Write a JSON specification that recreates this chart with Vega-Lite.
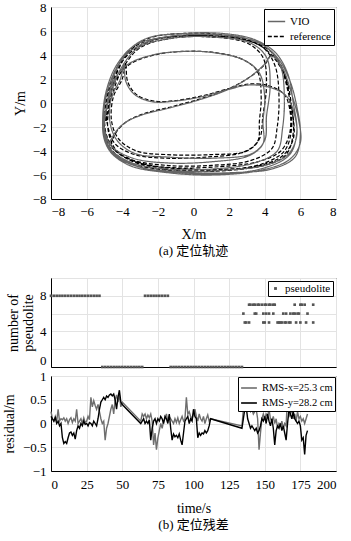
{
  "$schema": "https://vega.github.io/schema/vega-lite/v6.json",
  "padding": {"left": 1, "top": 0, "right": 5, "bottom": 5},
  "background": "white",
  "config": {
    "font": "Liberation Serif",
    "view": {"stroke": "black", "strokeWidth": 1},
    "axis": {"labelFont": "Liberation Serif", "labelFontSize": 13, "labelColor": "black", "titleFont": "Liberation Serif", "titleFontSize": 14, "titleFontWeight": "normal", "titleColor": "black", "domainColor": "black", "gridColor": "#e3e3e3", "ticks": false, "labelPadding": 5},
    "legend": {"labelFont": "Liberation Serif", "labelFontSize": 11, "labelColor": "black"},
    "title": {"font": "Liberation Serif, Noto Sans CJK SC", "fontSize": 13, "fontWeight": "normal", "color": "black"}
  },
  "bounds": "flush",
  "spacing": 79,
  "resolve": {"scale": {"color": "independent", "strokeDash": "independent", "x": "independent", "y": "independent"}, "legend": {"color": "independent", "strokeDash": "independent"}},
  "datasets": {
    "traj": [
      {"s":"reference","i":0,"x":-4.9,"y":-1.5},{"s":"reference","i":1,"x":-4.7,"y":0.5},{"s":"reference","i":2,"x":-4.3,"y":2.5},{"s":"reference","i":3,"x":-3.6,"y":4.3},{"s":"reference","i":4,"x":-2.5,"y":5.4},{"s":"reference","i":5,"x":-0.5,"y":5.8},{"s":"reference","i":6,"x":1.5,"y":5.7},{"s":"reference","i":7,"x":3.2,"y":5.2},{"s":"reference","i":8,"x":4.4,"y":4.2},{"s":"reference","i":9,"x":5.1,"y":2.5},{"s":"reference","i":10,"x":5.4,"y":0.2},{"s":"reference","i":11,"x":5.5,"y":-2.2},{"s":"reference","i":12,"x":5.1,"y":-4.0},{"s":"reference","i":13,"x":3.8,"y":-5.1},{"s":"reference","i":14,"x":1.5,"y":-5.6},{"s":"reference","i":15,"x":-0.8,"y":-5.6},{"s":"reference","i":16,"x":-2.8,"y":-5.2},{"s":"reference","i":17,"x":-4.2,"y":-4.2},{"s":"reference","i":18,"x":-4.9,"y":-2.8},
      {"s":"reference","i":19,"x":-5.0,"y":-1.2},{"s":"reference","i":20,"x":-4.8,"y":1.0},{"s":"reference","i":21,"x":-4.2,"y":3.2},{"s":"reference","i":22,"x":-3.2,"y":4.8},{"s":"reference","i":23,"x":-1.5,"y":5.5},{"s":"reference","i":24,"x":0.8,"y":5.6},{"s":"reference","i":25,"x":2.8,"y":5.3},{"s":"reference","i":26,"x":4.0,"y":4.5},{"s":"reference","i":27,"x":4.6,"y":3.0},{"s":"reference","i":28,"x":4.8,"y":0.5},{"s":"reference","i":29,"x":4.7,"y":-2.0},{"s":"reference","i":30,"x":4.4,"y":-3.8},{"s":"reference","i":31,"x":3.2,"y":-4.8},{"s":"reference","i":32,"x":1.0,"y":-5.2},{"s":"reference","i":33,"x":-1.5,"y":-5.2},{"s":"reference","i":34,"x":-3.5,"y":-4.7},{"s":"reference","i":35,"x":-4.6,"y":-3.6},
      {"s":"reference","i":36,"x":-4.4,"y":-2.6},{"s":"reference","i":37,"x":-3.8,"y":-1.6},{"s":"reference","i":38,"x":-2.8,"y":-0.9},{"s":"reference","i":39,"x":-1.2,"y":-0.3},{"s":"reference","i":40,"x":0.5,"y":0.4},{"s":"reference","i":41,"x":2.0,"y":1.2},{"s":"reference","i":42,"x":3.2,"y":2.2},{"s":"reference","i":43,"x":4.0,"y":3.2},{"s":"reference","i":44,"x":4.4,"y":4.0},
      {"s":"reference","i":45,"x":4.9,"y":3.0},{"s":"reference","i":46,"x":5.3,"y":1.0},{"s":"reference","i":47,"x":5.6,"y":-1.2},{"s":"reference","i":48,"x":5.6,"y":-3.0},{"s":"reference","i":49,"x":5.0,"y":-4.4},{"s":"reference","i":50,"x":3.5,"y":-5.3},{"s":"reference","i":51,"x":1.0,"y":-5.7},{"s":"reference","i":52,"x":-1.5,"y":-5.6},{"s":"reference","i":53,"x":-3.5,"y":-5.0},{"s":"reference","i":54,"x":-4.6,"y":-3.9},{"s":"reference","i":55,"x":-5.0,"y":-2.2},
      {"s":"reference","i":56,"x":-4.6,"y":0.5},{"s":"reference","i":57,"x":-4.0,"y":2.8},{"s":"reference","i":58,"x":-3.0,"y":4.6},{"s":"reference","i":59,"x":-1.2,"y":5.4},{"s":"reference","i":60,"x":1.0,"y":5.5},{"s":"reference","i":61,"x":3.0,"y":5.0},{"s":"reference","i":62,"x":3.9,"y":3.8},{"s":"reference","i":63,"x":4.1,"y":1.5},{"s":"reference","i":64,"x":3.9,"y":-1.0},{"s":"reference","i":65,"x":3.7,"y":-3.0},{"s":"reference","i":66,"x":3.0,"y":-4.0},{"s":"reference","i":67,"x":1.0,"y":-4.3},{"s":"reference","i":68,"x":-1.5,"y":-4.3},{"s":"reference","i":69,"x":-3.2,"y":-4.0},{"s":"reference","i":70,"x":-4.2,"y":-3.0},{"s":"reference","i":71,"x":-4.6,"y":-1.5},{"s":"reference","i":72,"x":-4.5,"y":0.5},{"s":"reference","i":73,"x":-4.0,"y":2.0},
      {"s":"reference","i":74,"x":-3.8,"y":3.3},{"s":"reference","i":75,"x":-3.7,"y":1.8},{"s":"reference","i":76,"x":-3.2,"y":0.7},{"s":"reference","i":77,"x":-2.2,"y":0.15},{"s":"reference","i":78,"x":-1.0,"y":0.2},{"s":"reference","i":79,"x":0.5,"y":0.6},{"s":"reference","i":80,"x":2.0,"y":1.2},{"s":"reference","i":81,"x":3.2,"y":1.6},{"s":"reference","i":82,"x":4.3,"y":1.4},{"s":"reference","i":83,"x":5.1,"y":0.7},{"s":"reference","i":84,"x":5.4,"y":-0.5},{"s":"reference","i":85,"x":5.4,"y":-2.5},{"s":"reference","i":86,"x":4.9,"y":-4.0},{"s":"reference","i":87,"x":3.6,"y":-4.9},{"s":"reference","i":88,"x":1.5,"y":-5.3},{"s":"reference","i":89,"x":-1.0,"y":-5.4},{"s":"reference","i":90,"x":-3.0,"y":-5.0},{"s":"reference","i":91,"x":-4.3,"y":-4.0},{"s":"reference","i":92,"x":-4.8,"y":-2.2},
      {"s":"reference","i":93,"x":-4.7,"y":0.0},{"s":"reference","i":94,"x":-4.4,"y":1.8},{"s":"reference","i":95,"x":-3.6,"y":3.2},{"s":"reference","i":96,"x":-2.2,"y":4.0},{"s":"reference","i":97,"x":-0.5,"y":4.3},{"s":"reference","i":98,"x":1.2,"y":4.2},{"s":"reference","i":99,"x":2.8,"y":3.6},{"s":"reference","i":100,"x":3.6,"y":2.6},{"s":"reference","i":101,"x":3.8,"y":0.5},{"s":"reference","i":102,"x":3.7,"y":-1.5},{"s":"reference","i":103,"x":3.6,"y":-3.2},{"s":"reference","i":104,"x":2.8,"y":-4.1},{"s":"reference","i":105,"x":0.8,"y":-4.5},{"s":"reference","i":106,"x":-1.5,"y":-4.6},{"s":"reference","i":107,"x":-3.3,"y":-4.3},{"s":"reference","i":108,"x":-4.4,"y":-3.4},{"s":"reference","i":109,"x":-4.8,"y":-2.0},
      {"s":"reference","i":110,"x":-4.9,"y":-0.3},{"s":"reference","i":111,"x":-4.5,"y":2.0},{"s":"reference","i":112,"x":-3.7,"y":4.0},{"s":"reference","i":113,"x":-2.3,"y":5.2},{"s":"reference","i":114,"x":-0.3,"y":5.6},{"s":"reference","i":115,"x":2.0,"y":5.5},{"s":"reference","i":116,"x":3.6,"y":4.9},{"s":"reference","i":117,"x":4.5,"y":3.8},{"s":"reference","i":118,"x":5.2,"y":2.0},{"s":"reference","i":119,"x":5.5,"y":-0.2},{"s":"reference","i":120,"x":5.6,"y":-2.5},{"s":"reference","i":121,"x":5.2,"y":-4.3},{"s":"reference","i":122,"x":4.0,"y":-5.2},{"s":"reference","i":123,"x":2.0,"y":-5.5},{"s":"reference","i":124,"x":-0.5,"y":-5.5},{"s":"reference","i":125,"x":-2.8,"y":-5.1},{"s":"reference","i":126,"x":-4.3,"y":-4.1},{"s":"reference","i":127,"x":-4.9,"y":-2.6},{"s":"reference","i":128,"x":-5.0,"y":-1.0},
      {"s":"VIO","i":0,"x":-5.0,"y":-1.6},{"s":"VIO","i":1,"x":-4.8,"y":0.4},{"s":"VIO","i":2,"x":-4.4,"y":2.5},{"s":"VIO","i":3,"x":-3.7,"y":4.3},{"s":"VIO","i":4,"x":-2.6,"y":5.4},{"s":"VIO","i":5,"x":-0.5,"y":5.8},{"s":"VIO","i":6,"x":1.6,"y":5.8},{"s":"VIO","i":7,"x":3.4,"y":5.3},{"s":"VIO","i":8,"x":4.6,"y":4.2},{"s":"VIO","i":9,"x":5.3,"y":2.4},{"s":"VIO","i":10,"x":5.6,"y":0.0},{"s":"VIO","i":11,"x":5.8,"y":-2.4},{"s":"VIO","i":12,"x":5.4,"y":-4.3},{"s":"VIO","i":13,"x":4.0,"y":-5.4},{"s":"VIO","i":14,"x":1.6,"y":-5.9},{"s":"VIO","i":15,"x":-0.8,"y":-5.8},{"s":"VIO","i":16,"x":-2.9,"y":-5.4},{"s":"VIO","i":17,"x":-4.4,"y":-4.4},{"s":"VIO","i":18,"x":-5.0,"y":-2.9},
      {"s":"VIO","i":19,"x":-5.1,"y":-1.3},{"s":"VIO","i":20,"x":-4.9,"y":1.0},{"s":"VIO","i":21,"x":-4.3,"y":3.2},{"s":"VIO","i":22,"x":-3.3,"y":4.8},{"s":"VIO","i":23,"x":-1.6,"y":5.5},{"s":"VIO","i":24,"x":0.8,"y":5.7},{"s":"VIO","i":25,"x":2.9,"y":5.4},{"s":"VIO","i":26,"x":4.2,"y":4.5},{"s":"VIO","i":27,"x":4.9,"y":3.0},{"s":"VIO","i":28,"x":5.1,"y":0.4},{"s":"VIO","i":29,"x":5.0,"y":-2.1},{"s":"VIO","i":30,"x":4.7,"y":-4.0},{"s":"VIO","i":31,"x":3.4,"y":-5.0},{"s":"VIO","i":32,"x":1.1,"y":-5.5},{"s":"VIO","i":33,"x":-1.5,"y":-5.5},{"s":"VIO","i":34,"x":-3.6,"y":-4.9},{"s":"VIO","i":35,"x":-4.7,"y":-3.7},
      {"s":"VIO","i":36,"x":-4.5,"y":-2.7},{"s":"VIO","i":37,"x":-3.9,"y":-1.7},{"s":"VIO","i":38,"x":-2.9,"y":-1.0},{"s":"VIO","i":39,"x":-1.3,"y":-0.4},{"s":"VIO","i":40,"x":0.4,"y":0.3},{"s":"VIO","i":41,"x":1.9,"y":1.1},{"s":"VIO","i":42,"x":3.1,"y":2.1},{"s":"VIO","i":43,"x":3.9,"y":3.1},{"s":"VIO","i":44,"x":4.4,"y":3.9},
      {"s":"VIO","i":45,"x":5.0,"y":2.9},{"s":"VIO","i":46,"x":5.5,"y":0.8},{"s":"VIO","i":47,"x":5.9,"y":-1.4},{"s":"VIO","i":48,"x":6.0,"y":-3.3},{"s":"VIO","i":49,"x":5.4,"y":-4.7},{"s":"VIO","i":50,"x":3.8,"y":-5.6},{"s":"VIO","i":51,"x":1.1,"y":-6.0},{"s":"VIO","i":52,"x":-1.5,"y":-5.8},{"s":"VIO","i":53,"x":-3.6,"y":-5.2},{"s":"VIO","i":54,"x":-4.7,"y":-4.0},{"s":"VIO","i":55,"x":-5.1,"y":-2.2},
      {"s":"VIO","i":56,"x":-4.7,"y":0.5},{"s":"VIO","i":57,"x":-4.1,"y":2.8},{"s":"VIO","i":58,"x":-3.1,"y":4.6},{"s":"VIO","i":59,"x":-1.2,"y":5.4},{"s":"VIO","i":60,"x":1.1,"y":5.5},{"s":"VIO","i":61,"x":3.2,"y":5.0},{"s":"VIO","i":62,"x":4.1,"y":3.8},{"s":"VIO","i":63,"x":4.3,"y":1.4},{"s":"VIO","i":64,"x":4.1,"y":-1.1},{"s":"VIO","i":65,"x":4.0,"y":-3.1},{"s":"VIO","i":66,"x":3.3,"y":-4.2},{"s":"VIO","i":67,"x":1.1,"y":-4.6},{"s":"VIO","i":68,"x":-1.5,"y":-4.5},{"s":"VIO","i":69,"x":-3.3,"y":-4.2},{"s":"VIO","i":70,"x":-4.3,"y":-3.1},{"s":"VIO","i":71,"x":-4.7,"y":-1.5},{"s":"VIO","i":72,"x":-4.6,"y":0.5},{"s":"VIO","i":73,"x":-4.1,"y":2.0},
      {"s":"VIO","i":74,"x":-3.9,"y":3.3},{"s":"VIO","i":75,"x":-3.8,"y":1.8},{"s":"VIO","i":76,"x":-3.3,"y":0.7},{"s":"VIO","i":77,"x":-2.3,"y":0.1},{"s":"VIO","i":78,"x":-1.1,"y":0.15},{"s":"VIO","i":79,"x":0.4,"y":0.5},{"s":"VIO","i":80,"x":1.9,"y":1.1},{"s":"VIO","i":81,"x":3.1,"y":1.5},{"s":"VIO","i":82,"x":4.3,"y":1.3},{"s":"VIO","i":83,"x":5.2,"y":0.6},{"s":"VIO","i":84,"x":5.6,"y":-0.6},{"s":"VIO","i":85,"x":5.8,"y":-2.7},{"s":"VIO","i":86,"x":5.3,"y":-4.3},{"s":"VIO","i":87,"x":4.0,"y":-5.2},{"s":"VIO","i":88,"x":1.7,"y":-5.6},{"s":"VIO","i":89,"x":-0.9,"y":-5.7},{"s":"VIO","i":90,"x":-3.1,"y":-5.3},{"s":"VIO","i":91,"x":-4.5,"y":-4.2},{"s":"VIO","i":92,"x":-5.0,"y":-2.3},
      {"s":"VIO","i":93,"x":-4.8,"y":0.0},{"s":"VIO","i":94,"x":-4.5,"y":1.8},{"s":"VIO","i":95,"x":-3.7,"y":3.2},{"s":"VIO","i":96,"x":-2.3,"y":4.0},{"s":"VIO","i":97,"x":-0.6,"y":4.3},{"s":"VIO","i":98,"x":1.1,"y":4.2},{"s":"VIO","i":99,"x":2.8,"y":3.6},{"s":"VIO","i":100,"x":3.7,"y":2.5},{"s":"VIO","i":101,"x":4.0,"y":0.4},{"s":"VIO","i":102,"x":3.9,"y":-1.6},{"s":"VIO","i":103,"x":3.9,"y":-3.4},{"s":"VIO","i":104,"x":3.1,"y":-4.4},{"s":"VIO","i":105,"x":1.0,"y":-4.9},{"s":"VIO","i":106,"x":-1.4,"y":-5.0},{"s":"VIO","i":107,"x":-3.4,"y":-4.6},{"s":"VIO","i":108,"x":-4.6,"y":-3.6},{"s":"VIO","i":109,"x":-5.0,"y":-2.1},
      {"s":"VIO","i":110,"x":-5.0,"y":-0.3},{"s":"VIO","i":111,"x":-4.6,"y":2.0},{"s":"VIO","i":112,"x":-3.8,"y":4.0},{"s":"VIO","i":113,"x":-2.4,"y":5.2},{"s":"VIO","i":114,"x":-0.3,"y":5.7},{"s":"VIO","i":115,"x":2.0,"y":5.6},{"s":"VIO","i":116,"x":3.7,"y":5.0},{"s":"VIO","i":117,"x":4.7,"y":3.8},{"s":"VIO","i":118,"x":5.4,"y":1.9},{"s":"VIO","i":119,"x":5.8,"y":-0.3},{"s":"VIO","i":120,"x":6.0,"y":-2.6},{"s":"VIO","i":121,"x":5.7,"y":-4.5},{"s":"VIO","i":122,"x":4.4,"y":-5.5},{"s":"VIO","i":123,"x":2.2,"y":-5.8},{"s":"VIO","i":124,"x":-0.4,"y":-5.8},{"s":"VIO","i":125,"x":-2.8,"y":-5.4},{"s":"VIO","i":126,"x":-4.4,"y":-4.3},{"s":"VIO","i":127,"x":-5.0,"y":-2.7},{"s":"VIO","i":128,"x":-5.0,"y":-1.1}
    ],
    "pl": [
      {"t":0,"n":8},{"t":2,"n":8},{"t":4,"n":8},{"t":6,"n":8},{"t":8,"n":8},{"t":10,"n":8},{"t":12,"n":8},{"t":14,"n":8},{"t":16,"n":8},{"t":18,"n":8},{"t":20,"n":8},{"t":22,"n":8},{"t":24,"n":8},{"t":26,"n":8},{"t":28,"n":8},{"t":30,"n":8},{"t":32,"n":8},{"t":34,"n":8},
      {"t":36,"n":0},{"t":38,"n":0},{"t":40,"n":0},{"t":42,"n":0},{"t":44,"n":0},{"t":46,"n":0},{"t":48,"n":0},{"t":50,"n":0},{"t":52,"n":0},{"t":54,"n":0},{"t":56,"n":0},{"t":58,"n":0},{"t":60,"n":0},{"t":62,"n":0},{"t":64,"n":0},
      {"t":66,"n":8},{"t":68,"n":8},{"t":70,"n":8},{"t":72,"n":8},{"t":74,"n":8},{"t":76,"n":8},{"t":78,"n":8},{"t":80,"n":8},{"t":82,"n":8},
      {"t":84,"n":0},{"t":86,"n":0},{"t":88,"n":0},{"t":90,"n":0},{"t":92,"n":0},{"t":94,"n":0},{"t":96,"n":0},{"t":98,"n":0},{"t":100,"n":0},{"t":102,"n":0},{"t":104,"n":0},{"t":106,"n":0},{"t":108,"n":0},{"t":110,"n":0},{"t":112,"n":0},{"t":114,"n":0},{"t":116,"n":0},{"t":118,"n":0},{"t":120,"n":0},{"t":122,"n":0},{"t":124,"n":0},{"t":126,"n":0},{"t":128,"n":0},{"t":130,"n":0},{"t":132,"n":0},{"t":134,"n":0},
      {"t":139,"n":7},{"t":140,"n":7},{"t":142,"n":7},{"t":143,"n":7},{"t":145,"n":7},{"t":146,"n":7},{"t":148,"n":7},{"t":150,"n":7},{"t":151,"n":7},{"t":153,"n":7},{"t":154,"n":7},{"t":156,"n":7},{"t":157,"n":7},{"t":171,"n":7},{"t":175,"n":7},{"t":176,"n":7},{"t":178,"n":7},{"t":184,"n":7},
      {"t":135,"n":6},{"t":143,"n":6},{"t":144,"n":6},{"t":149,"n":6},{"t":151,"n":6},{"t":153,"n":6},{"t":156,"n":6},{"t":163,"n":6},{"t":165,"n":6},{"t":168,"n":6},{"t":170,"n":6},{"t":171,"n":6},{"t":173,"n":6},{"t":174,"n":6},{"t":180,"n":6},
      {"t":136,"n":5},{"t":137,"n":5},{"t":139,"n":5},{"t":149,"n":5},{"t":150,"n":5},{"t":153,"n":5},{"t":159,"n":5},{"t":160,"n":5},{"t":161,"n":5},{"t":162,"n":5},{"t":164,"n":5},{"t":165,"n":5},{"t":167,"n":5},{"t":168,"n":5},{"t":172,"n":5},{"t":175,"n":5},{"t":179,"n":5},{"t":184,"n":5}
    ],
    "res": [
      {"t":0,"x":0.25,"y":0.15},{"t":1,"x":0.1,"y":0.1},{"t":2,"x":0.05,"y":0.05},{"t":3,"x":0.15,"y":0.12},{"t":4,"x":0.05,"y":0.0},{"t":5,"x":0.3,"y":0.05},{"t":6,"x":0.05,"y":-0.05},{"t":7,"x":0.1,"y":0.0},{"t":8,"x":0.08,"y":-0.3},{"t":9,"x":0.12,"y":-0.42},{"t":10,"x":0.05,"y":-0.38},{"t":11,"x":0.1,"y":-0.42},{"t":12,"x":0.0,"y":-0.3},{"t":13,"x":0.08,"y":-0.2},{"t":14,"x":0.12,"y":-0.18},{"t":15,"x":0.02,"y":-0.25},{"t":16,"x":0.1,"y":-0.2},{"t":17,"x":0.05,"y":-0.33},{"t":18,"x":0.3,"y":-0.15},{"t":19,"x":0.0,"y":-0.05},{"t":20,"x":0.05,"y":-0.1},{"t":21,"x":0.1,"y":0.0},{"t":22,"x":0.0,"y":-0.05},{"t":23,"x":0.12,"y":0.05},{"t":24,"x":0.02,"y":-0.02},{"t":25,"x":0.05,"y":0.0},{"t":26,"x":0.15,"y":-0.05},{"t":27,"x":0.08,"y":0.02},{"t":28,"x":0.55,"y":0.0},{"t":29,"x":0.35,"y":-0.05},{"t":30,"x":0.48,"y":0.05},{"t":31,"x":0.38,"y":0.0},{"t":32,"x":0.3,"y":-0.05},{"t":33,"x":0.4,"y":0.1},{"t":34,"x":0.25,"y":0.3},{"t":35,"x":0.1,"y":0.45},{"t":36,"x":0.0,"y":0.5},{"t":37,"x":0.05,"y":0.55},{"t":38,"x":-0.35,"y":0.5},{"t":39,"x":-0.1,"y":0.58},{"t":40,"x":0.0,"y":0.55},{"t":41,"x":0.15,"y":0.6},{"t":42,"x":0.3,"y":0.62},{"t":43,"x":0.4,"y":0.58},{"t":44,"x":0.2,"y":0.62},{"t":45,"x":0.5,"y":0.5},{"t":46,"x":0.6,"y":0.3},{"t":47,"x":0.45,"y":0.55},{"t":48,"x":0.6,"y":0.7},{"t":49,"x":0.35,"y":0.45},{"t":50,"x":0.45,"y":0.4},
      {"t":63,"x":0.05,"y":0.0},{"t":64,"x":0.2,"y":0.05},{"t":65,"x":0.15,"y":0.1},{"t":66,"x":0.2,"y":0.0},{"t":67,"x":0.1,"y":0.05},{"t":68,"x":0.18,"y":0.0},{"t":69,"x":0.12,"y":0.08},{"t":70,"x":0.2,"y":-0.35},{"t":71,"x":0.05,"y":-0.1},{"t":72,"x":-0.45,"y":0.05},{"t":73,"x":-0.2,"y":0.1},{"t":74,"x":-0.55,"y":0.0},{"t":75,"x":-0.3,"y":0.1},{"t":76,"x":-0.15,"y":0.05},{"t":77,"x":0.0,"y":0.15},{"t":78,"x":-0.1,"y":0.1},{"t":79,"x":0.05,"y":0.0},{"t":80,"x":0.1,"y":0.15},{"t":81,"x":0.2,"y":0.1},{"t":82,"x":0.05,"y":0.0},{"t":83,"x":0.15,"y":0.2},{"t":84,"x":0.1,"y":-0.1},{"t":85,"x":0.05,"y":-0.35},{"t":86,"x":0.0,"y":-0.22},{"t":87,"x":0.1,"y":-0.28},{"t":88,"x":0.02,"y":-0.25},{"t":89,"x":0.12,"y":-0.3},{"t":90,"x":0.0,"y":-0.22},{"t":91,"x":0.08,"y":-0.35},{"t":92,"x":0.15,"y":-0.45},{"t":93,"x":0.05,"y":-0.2},{"t":94,"x":0.1,"y":0.05},{"t":95,"x":0.55,"y":0.1},{"t":96,"x":0.2,"y":0.15},{"t":97,"x":0.25,"y":0.0},{"t":98,"x":0.15,"y":0.1},{"t":99,"x":0.1,"y":0.05},{"t":100,"x":0.2,"y":0.3},{"t":101,"x":0.3,"y":0.15},{"t":102,"x":0.15,"y":0.1},{"t":103,"x":0.05,"y":-0.3},{"t":104,"x":0.2,"y":-0.2},{"t":105,"x":0.1,"y":-0.25},{"t":106,"x":0.05,"y":-0.2},{"t":107,"x":0.15,"y":-0.22},{"t":108,"x":0.0,"y":-0.15},{"t":109,"x":0.1,"y":-0.2},{"t":110,"x":0.18,"y":-0.15},{"t":111,"x":0.05,"y":-0.05},{"t":112,"x":0.1,"y":0.1},
      {"t":134,"x":-0.05,"y":-0.1},{"t":135,"x":0.3,"y":0.1},{"t":136,"x":0.45,"y":0.3},{"t":137,"x":0.5,"y":0.35},{"t":138,"x":0.3,"y":0.1},{"t":139,"x":0.35,"y":0.0},{"t":140,"x":0.25,"y":-0.1},{"t":141,"x":0.3,"y":-0.05},{"t":142,"x":0.2,"y":-0.1},{"t":143,"x":0.25,"y":-0.15},{"t":144,"x":0.3,"y":-0.1},{"t":145,"x":0.1,"y":-0.2},{"t":146,"x":-0.55,"y":-0.15},{"t":147,"x":-0.2,"y":-0.05},{"t":148,"x":0.1,"y":0.1},{"t":149,"x":0.2,"y":0.05},{"t":150,"x":0.1,"y":0.15},{"t":151,"x":0.2,"y":0.0},{"t":152,"x":0.15,"y":0.2},{"t":153,"x":0.3,"y":0.05},{"t":154,"x":0.1,"y":-0.05},{"t":155,"x":0.05,"y":0.1},{"t":156,"x":0.15,"y":-0.1},{"t":157,"x":0.0,"y":-0.45},{"t":158,"x":0.1,"y":-0.15},{"t":159,"x":-0.1,"y":-0.05},{"t":160,"x":0.0,"y":-0.1},{"t":161,"x":-0.05,"y":0.0},{"t":162,"x":0.05,"y":-0.15},{"t":163,"x":-0.1,"y":-0.05},{"t":164,"x":0.0,"y":-0.2},{"t":165,"x":-0.05,"y":-0.35},{"t":166,"x":0.6,"y":0.0},{"t":167,"x":0.15,"y":0.3},{"t":168,"x":0.2,"y":0.2},{"t":169,"x":0.3,"y":0.1},{"t":170,"x":0.1,"y":0.25},{"t":171,"x":0.2,"y":0.1},{"t":172,"x":0.05,"y":0.05},{"t":173,"x":0.25,"y":0.0},{"t":174,"x":0.1,"y":0.05},{"t":175,"x":0.15,"y":-0.05},{"t":176,"x":0.05,"y":-0.35},{"t":177,"x":0.1,"y":-0.3},{"t":178,"x":0.0,"y":-0.65},{"t":179,"x":0.1,"y":-0.25},{"t":180,"x":0.2,"y":-0.15}
    ]
  },
  "vconcat": [
    {
      "width": 285,
      "height": 192,
      "data": {"name": "traj"},
      "title": {"text": "(a) 定位轨迹", "orient": "bottom", "offset": 4},
      "mark": {"type": "line", "strokeWidth": 1.2, "interpolate": "catmull-rom"},
      "encoding": {
        "x": {"field": "x", "type": "quantitative", "scale": {"domain": [-8, 8], "nice": false}, "axis": {"values": [-8,-6,-4,-2,0,2,4,6,8], "title": "X/m", "titlePadding": 9, "labelPadding": 6}},
        "y": {"field": "y", "type": "quantitative", "scale": {"domain": [-8, 8], "nice": false}, "axis": {"values": [-8,-6,-4,-2,0,2,4,6,8], "title": "Y/m", "titlePadding": 5}},
        "order": {"field": "i", "type": "quantitative"},
        "color": {"field": "s", "type": "nominal", "scale": {"domain": ["VIO", "reference"], "range": ["#666666", "#000000"]}, "legend": {"title": null, "orient": "top-right", "offset": 2, "fillColor": "white", "strokeColor": "black", "padding": 3, "symbolType": "stroke", "symbolSize": 300, "symbolStrokeWidth": 1.6, "rowPadding": 0, "labelFontSize": 11}},
        "strokeDash": {"field": "s", "type": "nominal", "scale": {"domain": ["VIO", "reference"], "range": [[1, 0], [4, 2]]}, "legend": {"title": null, "orient": "top-right", "offset": 2, "fillColor": "white", "strokeColor": "black", "padding": 3, "symbolType": "stroke", "symbolSize": 300, "symbolStrokeWidth": 1.6, "rowPadding": 0, "labelFontSize": 11}}
      }
    },
    {
      "bounds": "flush",
      "spacing": 9,
      "resolve": {"scale": {"color": "independent", "x": "independent", "y": "independent"}, "legend": {"color": "independent"}},
      "vconcat": [
        {
          "width": 285,
          "height": 89,
          "data": {"name": "pl"},
          "mark": {"type": "square", "size": 7, "opacity": 1},
          "encoding": {
            "x": {"field": "t", "type": "quantitative", "scale": {"domain": [0, 200], "nice": false}, "axis": {"values": [0,25,50,75,100,125,150,175,200], "labels": false, "title": null}},
            "y": {"field": "n", "type": "quantitative", "scale": {"domain": [0, 10], "nice": false}, "axis": {"values": [0,2,4,6,8,10], "title": ["number of", "pseudolite"], "titlePadding": 4, "titleLineHeight": 15, "labelFlush": true, "labelFlushOffset": 0}},
            "color": {"datum": "pseudolite", "type": "nominal", "scale": {"range": ["#555555"]}, "legend": {"title": null, "orient": "top-right", "offset": 3, "fillColor": "white", "strokeColor": "black", "padding": 2, "symbolType": "square", "symbolSize": 8, "labelFontSize": 11}}
          }
        },
        {
          "width": 285,
          "height": 95,
          "data": {"name": "res"},
          "title": {"text": "(b) 定位残差", "orient": "bottom", "offset": 4},
          "transform": [{"fold": ["x", "y"], "as": ["k", "v"]}],
          "mark": {"type": "line", "strokeWidth": 1.4},
          "encoding": {
            "x": {"field": "t", "type": "quantitative", "scale": {"domain": [0, 200], "nice": false}, "axis": {"values": [0,25,50,75,100,125,150,175,200], "title": "time/s", "titlePadding": 10, "labelPadding": 7}},
            "y": {"field": "v", "type": "quantitative", "scale": {"domain": [-1, 1], "nice": false}, "axis": {"values": [-1,-0.5,0,0.5,1], "format": "~g", "title": "residual/m", "titlePadding": 6}},
            "color": {"field": "k", "type": "nominal", "scale": {"domain": ["x", "y"], "range": ["#6e6e6e", "#000000"]}, "legend": {"title": null, "orient": "top-right", "offset": 1, "fillColor": "white", "strokeColor": "black", "padding": 2, "symbolType": "stroke", "symbolSize": 250, "symbolStrokeWidth": 1.6, "rowPadding": 0, "labelFontSize": 10.5, "labelExpr": "datum.label == 'x' ? 'RMS-x=25.3 cm' : 'RMS-y=28.2 cm'"}}
          }
        }
      ]
    }
  ]
}
